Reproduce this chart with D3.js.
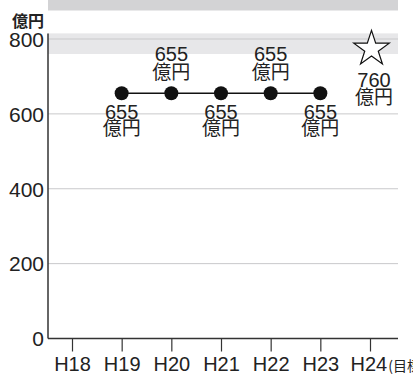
<!DOCTYPE html>
<html><head><meta charset="utf-8">
<script src="https://cdn.jsdelivr.net/npm/d3@7"></script>
<style>
html,body{margin:0;padding:0;background:#fff;}
svg{display:block;}
.num{font-family:"Liberation Sans",Arial,sans-serif;}
.cjk{font-family:"Noto Sans CJK JP",sans-serif;}
</style></head>
<body>
<script>
const categories = ["H18","H19","H20","H21","H22","H23","H24"];
const actualYears = ["H19","H20","H21","H22","H23"];
const actualValues = [655,655,655,655,655];
const labelSide = ["below","above","below","above","below"];
const targetYear = "H24";
const targetValue = 760;
const yTicks = [0,200,400,600,800];
const unitLabel = "億円";
const targetSuffix = "(目標)";

const W = 413, H = 374;
const svg = d3.select("body").append("svg").attr("width", W).attr("height", H);

const x = d3.scalePoint().domain(categories).range([72, 370]);
const y = d3.scaleLinear().domain([0, 800]).range([338.5, 39]);
const left = 48, right = 398;

// top grey bar
svg.append("rect").attr("x", left).attr("y", 0).attr("width", right - left).attr("height", 10.5).attr("fill", "#d3d3d5");

// target band
svg.append("rect").attr("x", left).attr("y", y(815)).attr("width", right - left)
  .attr("height", y(targetValue) - y(815)).attr("fill", "#e7e7e9");

// gridlines
svg.append("g").selectAll("line").data(yTicks.filter(d => d > 0)).join("line")
  .attr("x1", left).attr("x2", right).attr("y1", d => y(d)).attr("y2", d => y(d))
  .attr("stroke", "#c9c9cb").attr("stroke-width", 1);

// y axis
const yAxis = svg.append("g").attr("transform", `translate(${left},0)`)
  .call(d3.axisLeft(y).tickValues(yTicks).tickSize(0).tickPadding(4));
yAxis.select(".domain").remove();
yAxis.selectAll("text").attr("class", "num").attr("font-size", 21).attr("fill", "#222").attr("dy", "0.35em");
svg.append("line").attr("x1", left).attr("x2", left).attr("y1", y(815)).attr("y2", y(0))
  .attr("stroke", "#333").attr("stroke-width", 1.5);

// x axis
const xAxis = svg.append("g").attr("transform", `translate(0,${y(0)})`)
  .call(d3.axisBottom(x).tickSize(13).tickPadding(5));
xAxis.select(".domain").remove();
xAxis.selectAll(".tick line").attr("stroke", "#333").attr("stroke-width", 1.2);
xAxis.selectAll("text").attr("class", "num").attr("font-size", 20).attr("fill", "#222").attr("dy", "0.71em");
svg.append("line").attr("x1", left).attr("x2", right).attr("y1", y(0)).attr("y2", y(0))
  .attr("stroke", "#333").attr("stroke-width", 1.5);
// target suffix on last tick
xAxis.selectAll(".tick").filter(d => d === targetYear).select("text")
  .attr("text-anchor", "start").attr("x", -20)
  .append("tspan").attr("class", "cjk").attr("font-size", 14).attr("dx", 1).text(targetSuffix);

// unit label
svg.append("text").attr("class", "cjk").attr("x", 12).attr("y", 27).attr("font-size", 16)
  .attr("font-weight", 700).attr("fill", "#222").text(unitLabel);

// line
const pts = actualYears.map((c, i) => ({c, v: actualValues[i], side: labelSide[i]}));
svg.append("path").datum(pts)
  .attr("d", d3.line().x(d => x(d.c)).y(d => y(d.v)))
  .attr("fill", "none").attr("stroke", "#111").attr("stroke-width", 1.5);
svg.append("g").selectAll("circle").data(pts).join("circle")
  .attr("cx", d => x(d.c)).attr("cy", d => y(d.v)).attr("r", 7).attr("fill", "#111");

// labels
const lg = svg.append("g").attr("fill", "#222").attr("text-anchor", "middle");
pts.forEach(d => {
  const off = d.side === "above" ? [-32, -14.5] : [25.5, 42];
  lg.append("text").attr("class", "num").attr("font-size", 20)
    .attr("x", x(d.c)).attr("y", y(d.v) + off[0]).text(d.v);
  lg.append("text").attr("class", "cjk").attr("font-size", 19)
    .attr("x", x(d.c)).attr("y", y(d.v) + off[1]).text(unitLabel);
});

// target star
svg.append("path").attr("d", d3.symbol(d3.symbolStar, 390)())
  .attr("transform", `translate(${x(targetYear) + 1.5},${y(targetValue) - 5})`)
  .attr("fill", "#fff").attr("stroke", "#111").attr("stroke-width", 1.2);
lg.append("text").attr("class", "num").attr("font-size", 20)
  .attr("x", x(targetYear) + 4).attr("y", y(targetValue) + 33).text(targetValue);
lg.append("text").attr("class", "cjk").attr("font-size", 19)
  .attr("x", x(targetYear) + 4).attr("y", y(targetValue) + 50.5).text(unitLabel);
</script>
</body></html>
